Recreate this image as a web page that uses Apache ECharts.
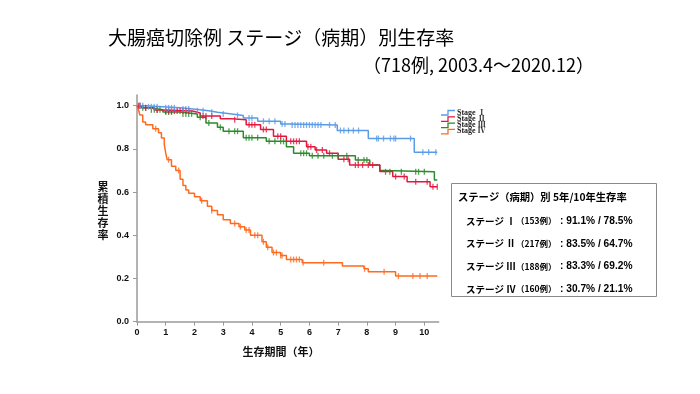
<!DOCTYPE html>
<html>
<head>
<meta charset="utf-8">
<script src="https://cdn.jsdelivr.net/npm/echarts@6.0.0/dist/echarts.min.js"></script>
<style>
html,body{margin:0;padding:0;background:#fff;}
#chart{width:700px;height:394px;}
</style>
</head>
<body>
<div id="chart"></div>
<script>
// ---- data ----
const seriesNames = ['Stage Ⅰ', 'Stage Ⅱ', 'Stage Ⅲ', 'Stage Ⅳ'];
const xTicks = [0,1,2,3,4,5,6,7,8,9,10];
const yTicks = [0,0.2,0.4,0.6,0.8,1.0];
const endTime = 10.45;

// Stage I: step times / survival after step
const s1Times = [0, 0.3, 0.9, 1.5, 1.95, 2.5, 2.8, 3.3, 3.7, 4.2, 5.0, 5.3, 6.97, 8.05, 9.65];
const s1Surv  = [1.0, 0.995, 0.99, 0.985, 0.977, 0.97, 0.962, 0.955, 0.943, 0.928, 0.915, 0.911, 0.885, 0.848, 0.785];
const s1Censor = [0.1,0.2,0.4,0.5,0.6,0.7,1.0,1.1,1.2,1.3,1.6,1.7,1.8,2.1,2.3,2.6,3.0,3.5,3.9,4.0,4.4,4.6,4.8,5.05,5.15,5.4,5.5,5.6,5.7,5.8,5.9,6.0,6.1,6.2,6.3,6.4,6.7,6.9,7.08,7.2,7.36,7.53,7.71,8.34,8.4,8.58,8.82,8.94,9.0,9.52,9.95,10.15,10.4];

// Stage II
const s2Times = [0, 0.2, 0.6, 0.9, 1.93, 2.2, 2.9, 3.3, 3.8, 4.3, 4.75, 5.2, 5.9, 6.2, 6.6, 7.0, 7.4, 8.45, 8.9, 9.4, 10.2];
const s2Surv  = [1.0, 0.99, 0.98, 0.975, 0.966, 0.952, 0.94, 0.935, 0.912, 0.89, 0.858, 0.835, 0.81, 0.795, 0.78, 0.752, 0.725, 0.695, 0.672, 0.648, 0.625];
const s2Censor = [0.05,0.1,0.3,0.7,1.0,1.1,1.2,1.3,1.4,1.5,1.6,1.7,1.8,2.3,2.4,2.6,3.4,3.9,4.0,4.1,4.4,4.5,4.9,5.0,5.35,5.45,5.55,5.65,5.95,6.05,6.25,6.45,6.7,7.2,7.35,7.6,7.7,7.85,8.05,8.2,9.0,9.3,9.7,10.1,10.3,10.45];

// Stage III
const s3Times = [0, 0.15, 0.45, 0.9, 1.5, 2.1, 2.4, 2.8, 3.0, 3.7, 4.5, 5.2, 5.45, 6.0, 7.6, 8.1, 8.45, 8.6, 10.35];
const s3Surv  = [1.0, 0.99, 0.981, 0.971, 0.962, 0.946, 0.92, 0.9, 0.882, 0.852, 0.835, 0.81, 0.78, 0.768, 0.749, 0.725, 0.7, 0.694, 0.656];
const s3Censor = [0.1,0.2,0.3,0.5,0.6,0.7,0.8,1.0,1.1,1.2,1.6,1.7,1.8,1.9,2.2,2.5,2.9,3.2,3.4,3.5,3.8,3.9,4.0,4.2,4.6,4.8,5.0,5.1,5.7,5.8,5.9,6.1,6.3,6.5,6.8,7.0,7.3,7.7,7.9,8.0,8.65,8.8,9.2,9.7,9.8,10.0];

// Stage IV
const s4Times = [0, 0.05, 0.1, 0.2, 0.3, 0.55, 0.75, 0.85, 0.95, 1.0, 1.05, 1.2, 1.35, 1.5, 1.6, 1.7, 1.8, 2.0, 2.2, 2.45, 2.6, 2.8, 3.0, 3.25, 3.55, 3.75, 3.95, 4.35, 4.5, 4.7, 5.0, 5.2, 5.75, 7.15, 7.9, 8.05, 9.0];
const s4Surv  = [1.0, 0.981, 0.957, 0.925, 0.912, 0.893, 0.875, 0.85, 0.82, 0.78, 0.75, 0.72, 0.70, 0.66, 0.63, 0.61, 0.595, 0.578, 0.56, 0.535, 0.515, 0.495, 0.472, 0.455, 0.44, 0.425, 0.40, 0.37, 0.345, 0.32, 0.307, 0.288, 0.273, 0.258, 0.245, 0.231, 0.211];
const s4Censor = [0.65,1.1,1.45,2.25,2.6,3.4,3.6,3.8,3.9,4.1,4.2,4.4,4.55,4.75,4.85,5.0,5.05,5.35,5.45,5.55,5.65,5.78,6.5,7.92,8.6,9.1,9.6,9.85,10.1];

const colors = ['#5a9be6', '#e3173e', '#2b8a2b', '#ff6a1f'];

const boxTitle = 'ステージ（病期）別 5年/10年生存率';
const boxStage = ['ステージ Ⅰ', 'ステージ Ⅱ', 'ステージ Ⅲ', 'ステージ Ⅳ'];
const boxCases = ['（153例）', '（217例）', '（188例）', '（160例）'];
const boxRates = [': 91.1% / 78.5%', ': 83.5% / 64.7%', ': 83.3% / 69.2%', ': 30.7% / 21.1%'];

// ---- build ----
function stepData(times, surv) {
  const d = times.map((t, i) => [t, surv[i]]);
  d.push([endTime, surv[surv.length - 1]]);
  return d;
}
function censorData(times, surv, cens) {
  return cens.map(c => {
    let v = surv[0];
    for (let i = 0; i < times.length; i++) if (times[i] <= c) v = surv[i];
    return [c, v];
  });
}
const allT = [s1Times, s2Times, s3Times, s4Times];
const allS = [s1Surv, s2Surv, s3Surv, s4Surv];
const allC = [s1Censor, s2Censor, s3Censor, s4Censor];

const series = [];
for (let k = 3; k >= 0; k--) {
  series.push({
    name: seriesNames[k], type: 'line', step: 'end', showSymbol: false,
    data: stepData(allT[k], allS[k]),
    lineStyle: { color: colors[k], width: 1.5 }, itemStyle: { color: colors[k] },
    silent: true, animation: false, z: 3
  });
  series.push({
    name: seriesNames[k] + ' censor', type: 'scatter', symbol: 'rect', symbolSize: [1.3, 6],
    data: censorData(allT[k], allS[k], allC[k]),
    itemStyle: { color: colors[k] }, silent: true, animation: false, z: 4
  });
}

const jp = '"Noto Sans CJK JP"';
const graphics = [
  { type: 'text', left: 108, top: 28, style: { text: '大腸癌切除例 ステージ（病期）別生存率', font: '19px ' + jp, fill: '#000' } },
  { type: 'text', left: 363, top: 56, style: { text: '（718例, 2003.4～2020.12）', font: '18px ' + jp, fill: '#000' } },
  { type: 'text', x: 103, y: 181, style: { text: '累\n積\n生\n存\n率', font: 'bold 11px ' + jp, lineHeight: 12, align: 'center', fill: '#111' } },
  { type: 'text', x: 281, y: 352, style: { text: '生存期間（年）', font: 'bold 11px ' + jp, align: 'center', verticalAlign: 'middle', fill: '#111' } },
  { type: 'rect', shape: { x: 451.5, y: 183.5, width: 205, height: 113 }, style: { fill: '#fff', stroke: '#8a8a8a', lineWidth: 1 } },
  { type: 'text', x: 458, y: 197, style: { text: boxTitle, font: 'bold 10.3px ' + jp, verticalAlign: 'middle', fill: '#000' } }
];
const legendY = [112.5, 118.8, 125.1, 131.4];
for (let k = 0; k < 4; k++) {
  const y = legendY[k];
  graphics.push({ type: 'polyline', shape: { points: [[441, y + 2.5], [448, y + 2.5], [448, y - 2], [455, y - 2]] }, style: { stroke: colors[k], lineWidth: 1.3, fill: null } });
  graphics.push({ type: 'text', x: 457, y: y, style: { text: seriesNames[k], font: 'bold 8px "Liberation Serif", "Noto Serif CJK JP", "Noto Sans CJK JP"', verticalAlign: 'middle', fill: '#222' } });
  const ry = 221 + k * 22.7;
  graphics.push({ type: 'text', x: 466, y: ry, style: { text: boxStage[k], font: 'bold 9.5px ' + jp, verticalAlign: 'middle', fill: '#000' } });
  graphics.push({ type: 'text', x: 516, y: ry, style: { text: boxCases[k], font: 'bold 8.5px ' + jp, verticalAlign: 'middle', fill: '#000' } });
  graphics.push({ type: 'text', x: 560, y: ry, style: { text: boxRates[k], font: 'bold 10.2px "Liberation Sans"', verticalAlign: 'middle', fill: '#000' } });
}

const chart = echarts.init(document.getElementById('chart'), null, { renderer: 'canvas' });
chart.setOption({
  animation: false,
  backgroundColor: '#fff',
  grid: { left: 137, right: 261.3, top: 94.9, bottom: 72.3, containLabel: false },
  xAxis: {
    type: 'value', min: 0, max: 10.5, interval: 1,
    axisLine: { show: true, lineStyle: { color: '#9a9a9a', width: 1.5 } },
    axisTick: { show: true, length: 4, lineStyle: { color: '#9a9a9a', width: 1 }, customValues: xTicks },
    axisLabel: { customValues: xTicks, margin: 6, color: '#111', fontWeight: 'bold', fontSize: 9, fontFamily: 'Liberation Sans' },
    splitLine: { show: false }
  },
  yAxis: {
    type: 'value', min: 0, max: 1.05, interval: 0.2,
    axisLine: { show: true, lineStyle: { color: '#9a9a9a', width: 1.5 } },
    axisTick: { show: true, length: 4, lineStyle: { color: '#9a9a9a', width: 1 }, customValues: yTicks },
    axisLabel: { customValues: yTicks, margin: 8, color: '#111', fontWeight: 'bold', fontSize: 9, fontFamily: 'Liberation Sans', formatter: v => v.toFixed(1) },
    splitLine: { show: false }
  },
  series: series,
  graphic: graphics
});
</script>
</body>
</html>
